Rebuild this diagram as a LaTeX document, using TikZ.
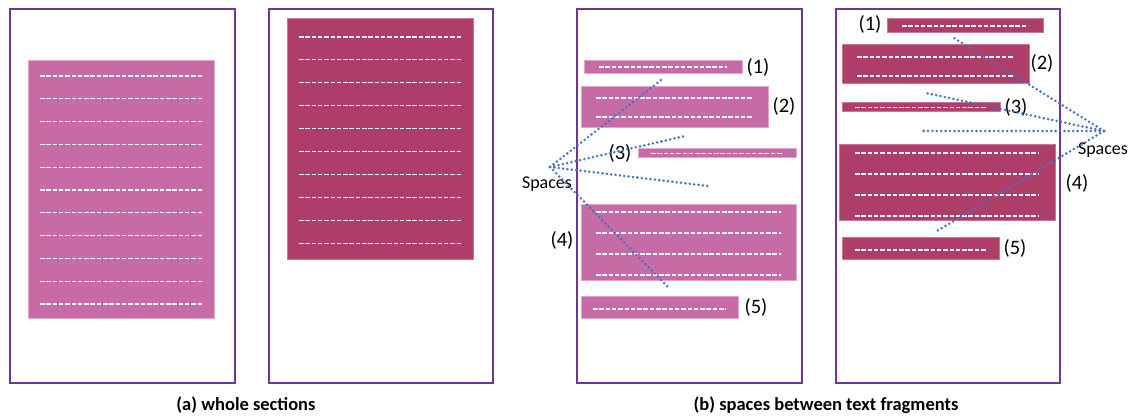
\documentclass[tikz,border=0pt]{standalone}
\usepackage{fontspec}
\setmainfont{Carlito}
\definecolor{framec}{HTML}{6F3596}
\definecolor{lightblk}{HTML}{C66BA6}
\definecolor{lightedge}{HTML}{E2A6CC}
\definecolor{darkblk}{HTML}{AE3D68}
\definecolor{darkedge}{HTML}{C8769A}
\definecolor{dotblue}{HTML}{4472C4}
\tikzset{
  panel/.style={draw=framec, line width=2pt, fill=white, anchor=north west, inner sep=0pt},
  lblk/.style={fill=lightblk, draw=lightedge, line width=0.8pt, anchor=north west, inner sep=0pt},
  dblk/.style={fill=darkblk, draw=darkedge, line width=0.8pt, anchor=north west, inner sep=0pt},
  txtline/.style={draw=white, line width=1.1pt, dash pattern=on 4.5pt off 1.8pt},
  spaceline/.style={draw=dotblue, line width=2.8pt, line cap=round, dash pattern=on 0pt off 4.4pt},
  numlbl/.style={font=\fontsize{20.5}{24}\selectfont, inner sep=0pt},
  spclbl/.style={font=\fontsize{18}{21}\selectfont, inner sep=0pt},
  caption/.style={font=\bfseries\fontsize{18.5}{22}\selectfont, inner sep=0pt}
}
\begin{document}
\begin{tikzpicture}[x=1pt,y=-1pt]
\useasboundingbox[fill=white] (0,0) rectangle (1136,417);
% frames
\node[panel, minimum width=225pt, minimum height=374pt] (p1) at (9,8) {};
\node[panel, minimum width=224pt, minimum height=374pt] (p2) at (268,8) {};
\node[panel, minimum width=225pt, minimum height=374pt] (p3) at (576,8) {};
\node[panel, minimum width=224pt, minimum height=374pt] (p4) at (835,8) {};
% (a) whole sections
\node[lblk, minimum width=186pt, minimum height=258pt] (a1) at (28,60) {};
\foreach \k in {0,...,10} \draw[txtline] (40,76+22.8*\k) -- (203,76+22.8*\k);
\node[dblk, minimum width=186pt, minimum height=241pt] (a2) at (287,18) {};
\foreach \k in {0,...,9} \draw[txtline] (299,37+22.9*\k) -- (462,37+22.9*\k);
% panel 3
\node[lblk, minimum width=158pt, minimum height=13pt] (c1) at (584,60) {};
\draw[txtline] (599,67) -- (727,67);
\node[lblk, minimum width=187pt, minimum height=41pt] (c2) at (581,86) {};
\foreach \y in {98,117} \draw[txtline] (596,\y) -- (753,\y);
\node[lblk, minimum width=158pt, minimum height=9pt] (c3) at (638,148) {};
\draw[txtline] (651,153.5) -- (783,153.5);
\node[lblk, minimum width=215pt, minimum height=76pt] (c4) at (581,204) {};
\foreach \y in {212,233,254,275} \draw[txtline] (596,\y) -- (781,\y);
\node[lblk, minimum width=157pt, minimum height=22pt] (c5) at (581,296) {};
\draw[txtline] (593,309) -- (726,309);
\node[numlbl] (cl1) at (758,67) {(1)};
\node[numlbl] (cl2) at (784,106) {(2)};
\node[numlbl] (cl3) at (620,153) {(3)};
\node[numlbl] (cl4) at (562,240) {(4)};
\node[numlbl] (cl5) at (756,307) {(5)};
\node[spclbl] (cs) at (547,184) {Spaces};
\coordinate (cx) at (550,167);
\coordinate (ce1) at (661,80);
\coordinate (ce2) at (685,136);
\coordinate (ce3) at (708,186);
\coordinate (ce4) at (668,287);
\foreach \e in {ce1,ce2,ce3,ce4} \draw[spaceline] (cx) -- (\e);
% panel 4
\node[dblk, minimum width=156pt, minimum height=14pt] (d1) at (887,18) {};
\draw[txtline] (902,26) -- (1028,26);
\node[dblk, minimum width=187pt, minimum height=39pt] (d2) at (842,44) {};
\foreach \y in {57,76} \draw[txtline] (857,\y) -- (1013,\y);
\node[dblk, minimum width=158pt, minimum height=9pt] (d3) at (842,102) {};
\draw[txtline] (855,107.5) -- (987,107.5);
\node[dblk, minimum width=216pt, minimum height=76pt] (d4) at (839,144) {};
\foreach \y in {153,174,195,216} \draw[txtline] (855,\y) -- (1039,\y);
\node[dblk, minimum width=157pt, minimum height=22pt] (d5) at (842,237) {};
\draw[txtline] (855,250) -- (987,250);
\node[numlbl] (dl1) at (870,24) {(1)};
\node[numlbl] (dl2) at (1042,63) {(2)};
\node[numlbl] (dl3) at (1016,107) {(3)};
\node[numlbl] (dl4) at (1077,183) {(4)};
\node[numlbl] (dl5) at (1015,248) {(5)};
\node[spclbl] (ds) at (1103,150) {Spaces};
\coordinate (dx) at (1104,131);
\coordinate (de1) at (954,38);
\coordinate (de2) at (926,93);
\coordinate (de3) at (921,131);
\coordinate (de4) at (937,231);
\foreach \e in {de1,de2,de3,de4} \draw[spaceline] (dx) -- (\e);
% captions
\node[caption] (capa) at (246,405) {(a) whole sections};
\node[caption] (capb) at (826,405) {(b) spaces between text fragments};
\end{tikzpicture}
\end{document}
